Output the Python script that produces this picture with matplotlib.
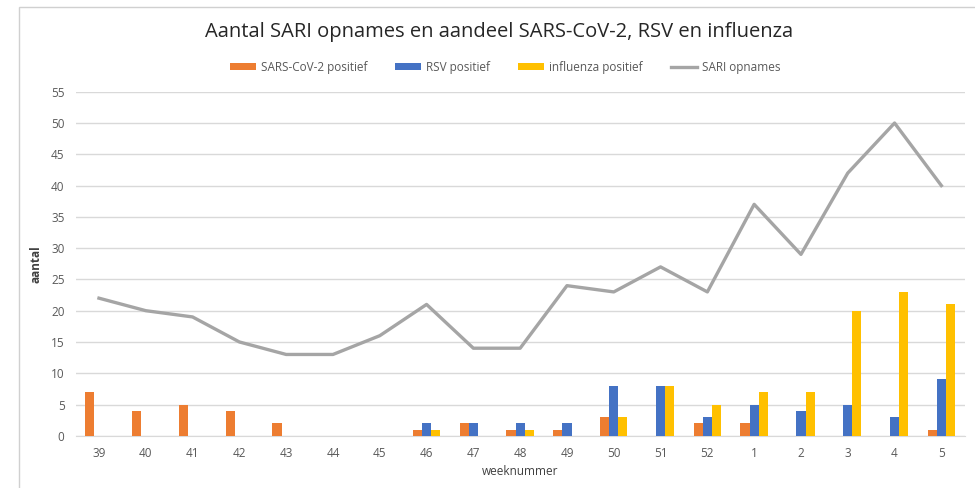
"""
    Grafiek SARI opnames en aandeel SARS-CoV-2, RSV en influenza
"""
import numpy as np
import matplotlib.pyplot as plt
from matplotlib.patches import Rectangle

weken = ['39', '40', '41', '42', '43', '44', '45', '46', '47', '48',
         '49', '50', '51', '52', '1', '2', '3', '4', '5']
sars_cov2 = [7, 4, 5, 4, 2, 0, 0, 1, 2, 1, 1, 3, 0, 2, 2, 0, 0, 0, 1]
rsv = [0, 0, 0, 0, 0, 0, 0, 2, 2, 2, 2, 8, 8, 3, 5, 4, 5, 3, 9]
influenza = [0, 0, 0, 0, 0, 0, 0, 1, 0, 1, 0, 3, 8, 5, 7, 7, 20, 23, 21]
sari = [22, 20, 19, 15, 13, 13, 16, 21, 14, 14, 24, 23, 27, 23, 37, 29, 42, 50, 40]

plt.rcParams['font.family'] = ['Open Sans', 'DejaVu Sans']
tekst = '#595959'

fig = plt.figure(figsize=(9.75, 4.88), dpi=100)
ax = fig.add_axes([0.0775, 0.107, 0.912, 0.705])

# kader rond de grafiek
fig.patches.append(Rectangle((0.019, -0.05), 1.1, 1.036, transform=fig.transFigure,
                             fill=False, edgecolor='#d0d0d0', linewidth=1))

x = np.arange(len(weken))
b = 0.195
h1 = ax.bar(x - b, sars_cov2, b, color='#ED7D31', label='SARS-CoV-2 positief', zorder=3)
h2 = ax.bar(x, rsv, b, color='#4472C4', label='RSV positief', zorder=3)
h3 = ax.bar(x + b, influenza, b, color='#FFC000', label='influenza positief', zorder=3)
h4, = ax.plot(x, sari, color='#A5A5A5', linewidth=2.4, label='SARI opnames', zorder=4)

ax.set_xlim(-0.5, len(weken) - 0.5)
ax.set_ylim(0, 55)
ax.set_yticks(range(0, 56, 5))
ax.set_xticks(x)
ax.set_xticklabels(weken)
ax.grid(axis='y', color='#d9d9d9', linewidth=1, zorder=0)
for s in ['top', 'right', 'left']:
    ax.spines[s].set_visible(False)
ax.spines['bottom'].set_color('#d9d9d9')
ax.tick_params(axis='both', length=0, labelsize=8.5, colors=tekst, pad=8)

ax.set_xlabel('weeknummer', fontsize=8.5, color='#404040', labelpad=4)
ax.set_ylabel('aantal', fontsize=8.5, color='#404040', fontweight='bold', labelpad=6)

fig.text(0.512, 0.935, 'Aantal SARI opnames en aandeel SARS-CoV-2, RSV en influenza',
         ha='center', va='center', fontsize=14.5, color='#262626')
fig.legend(handles=[h1, h2, h3, h4], loc='center', bbox_to_anchor=(0.518, 0.862),
           ncol=4, frameon=False, fontsize=8.5, handlelength=2.2, handleheight=0.6,
           columnspacing=2.4, handletextpad=0.4, labelcolor=tekst)

fig.savefig('out.png', dpi=100)
